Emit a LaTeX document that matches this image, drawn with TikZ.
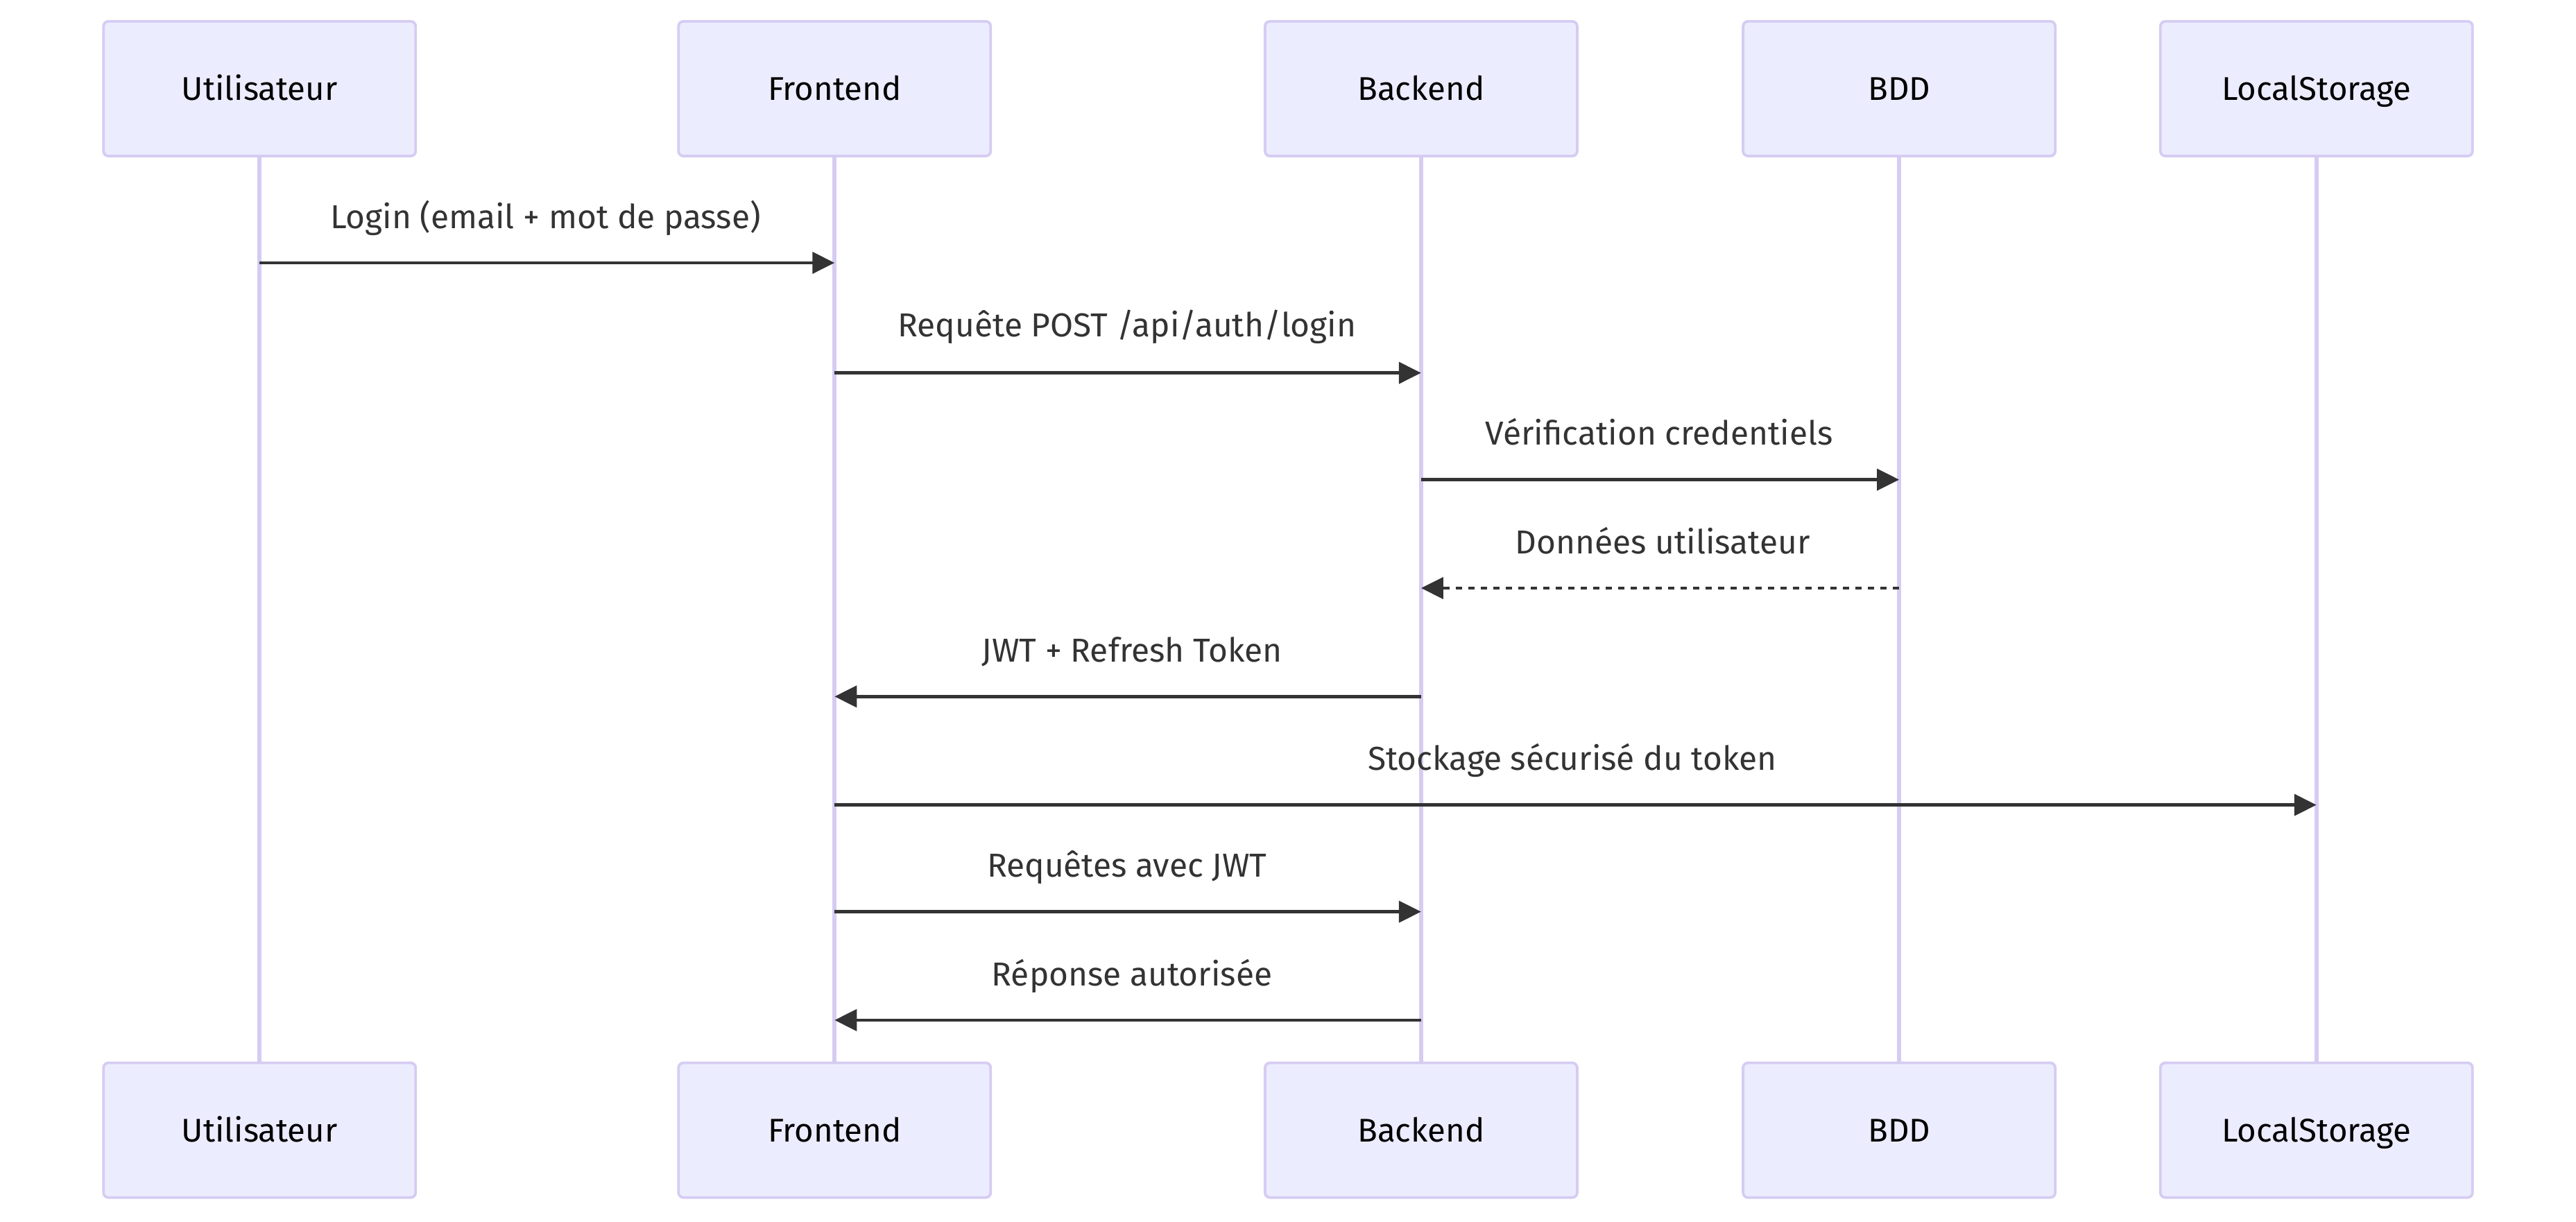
\documentclass[tikz,border=0pt]{standalone}
\usepackage{fontspec}
\setmainfont{Fira Sans}
\usetikzlibrary{arrows.meta}
\definecolor{actfill}{HTML}{ECECFF}
\definecolor{actline}{HTML}{D6CCF2}
\definecolor{msg}{HTML}{333333}
\tikzset{
  actor/.style={draw=actline, line width=1.6pt, fill=actfill, rounded corners=3pt,
    minimum width=190pt, minimum height=82pt, inner sep=0pt,
    text height=16pt, text depth=2pt,
    font=\fontsize{20}{23}\selectfont, text=black},
  life/.style={draw=actline, line width=2.6pt},
  msgline/.style={draw=msg, line width=1.9pt, -{Triangle[length=13.5pt,width=13pt]}},
  reply/.style={msgline, dash pattern=on 3.8pt off 3.8pt},
  lbl/.style={font=\fontsize{20.2}{23}\selectfont, text=msg, inner sep=0pt,
    text height=15.5pt, text depth=3.5pt, anchor=center}
}
\begin{document}
\begin{tikzpicture}[x=1pt,y=-1pt]
\useasboundingbox (0,0) rectangle (1568,743.5);
% actors
\foreach \n/\x/\t in {u/158/Utilisateur, f/508/Frontend, b/865/Backend, d/1156/BDD, l/1410/LocalStorage}{
  \node[actor] (\n) at (\x,54) {\t};
  \node[actor] (\n b) at (\x,688) {\t};
}
% lifelines
\foreach \n in {u,f,b,d,l}{
  \draw[life] (\n.south) -- (\n b.north);
}
\foreach \n in {u,f,b,d,l}{
  \foreach \y/\k in {160/1,227/2,292/3,358/4,424/5,490/6,555/7,621/8}{
    \coordinate (\n\k) at (\n.south |- 0,\y);
  }
}
% messages
\draw[msgline] (u1) -- (f1);
\node[lbl] (t1) at (332,133) {Login (email + mot de passe)};
\draw[msgline] (f2) -- (b2);
\node[lbl] (t2) at (686,199) {Requête POST /api/auth/login};
\draw[msgline] (b3) -- (d3);
\node[lbl] (t3) at (1010,265) {Vérification credentiels};
\draw[reply] (d4) -- (b4);
\node[lbl] (t4) at (1012,331) {Données utilisateur};
\draw[msgline] (b5) -- (f5);
\node[lbl] (t5) at (689,397) {JWT + Refresh Token};
\draw[msgline] (f6) -- (l6);
\node[lbl] (t6) at (957,463) {Stockage sécurisé du token};
\draw[msgline] (f7) -- (b7);
\node[lbl] (t7) at (686,528) {Requêtes avec JWT};
\draw[msgline] (b8) -- (f8);
\node[lbl] (t8) at (689,594) {Réponse autorisée};
\end{tikzpicture}
\end{document}
